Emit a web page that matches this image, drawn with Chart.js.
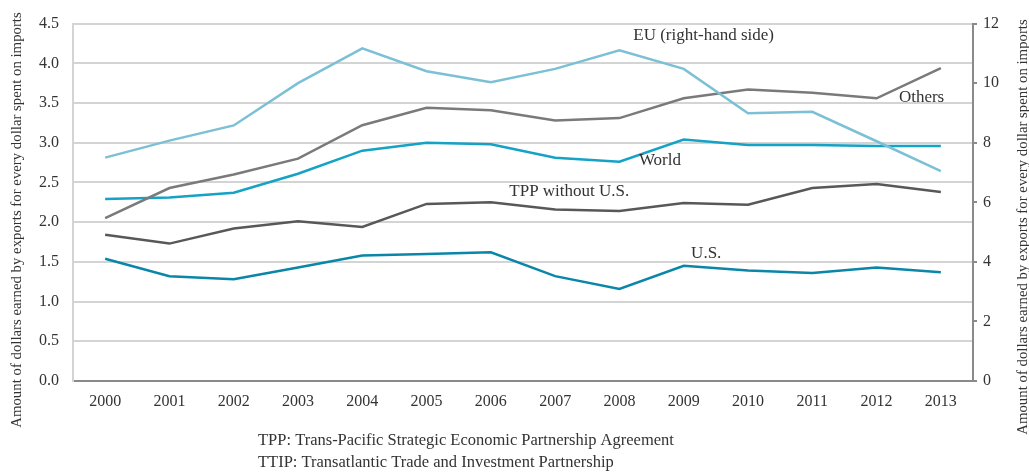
<!DOCTYPE html>
<html>
<head>
<meta charset="utf-8">
<script src="https://cdn.jsdelivr.net/npm/chart.js@4.4.1/dist/chart.umd.min.js"></script>
<style>
    html, body { margin: 0; padding: 0; background: #fff; }
    #wrap { width: 1029px; height: 473px; }
</style>
</head>
<body>
<div id="wrap"><canvas id="chart" width="1029" height="473"></canvas></div>
<script>
const years = ['2000', '2001', '2002', '2003', '2004', '2005', '2006', '2007', '2008', '2009', '2010', '2011', '2012', '2013'];

// EU is on the right-hand axis, everything else on the left
const euRight = [7.50, 8.07, 8.58, 10.0, 11.17, 10.4, 10.03, 10.48, 11.1, 10.48, 8.99, 9.04, 8.05, 7.05];
const others = [2.05, 2.43, 2.60, 2.80, 3.22, 3.44, 3.41, 3.28, 3.31, 3.56, 3.67, 3.63, 3.56, 3.94];
const world = [2.29, 2.31, 2.37, 2.61, 2.90, 3.00, 2.98, 2.81, 2.76, 3.04, 2.97, 2.97, 2.96, 2.96];
const tppNoUs = [1.84, 1.73, 1.92, 2.01, 1.94, 2.23, 2.25, 2.16, 2.14, 2.24, 2.22, 2.43, 2.48, 2.38];
const us = [1.54, 1.32, 1.28, 1.43, 1.58, 1.60, 1.62, 1.32, 1.16, 1.45, 1.39, 1.36, 1.43, 1.37];

const leftTicks = { min: 0, max: 4.5, step: 0.5 };
const rightTicks = { min: 0, max: 12, step: 2 };

// series names placed inside the plot: [text, category index, left-axis value]
const seriesLabels = [
    ['EU (right-hand side)', 9.31, 4.35],
    ['Others', 12.7, 3.57],
    ['World', 8.63, 2.77],
    ['TPP without U.S.', 7.22, 2.38],
    ['U.S.', 9.35, 1.60]
];

const axisTitle = 'Amount of dollars earned by exports for every dollar spent on imports';
const footnotes = [
    'TPP: Trans-Pacific Strategic Economic Partnership Agreement',
    'TTIP: Transatlantic Trade and Investment Partnership'
];

const serif = '"Liberation Serif", "DejaVu Serif", serif';
const textColor = '#333333';

const labelPlugin = {
    id: 'labelPlugin',
    afterDraw(chart) {
        const ctx = chart.ctx;
        const xs = chart.scales.x;
        const ys = chart.scales.y;
        ctx.save();
        ctx.fillStyle = textColor;

        // in-plot series names
        ctx.font = '17px ' + serif;
        ctx.textAlign = 'center';
        ctx.textBaseline = 'middle';
        seriesLabels.forEach(([text, idx, val]) => {
            ctx.fillText(text, xs.getPixelForValue(idx), ys.getPixelForValue(val));
        });

        // axis titles, both reading bottom to top
        ctx.font = '14.8px ' + serif;
        [[17, 220], [1023, 227]].forEach(([x, y]) => {
            ctx.save();
            ctx.translate(x, y);
            ctx.rotate(-Math.PI / 2);
            ctx.fillText(axisTitle, 0, 0);
            ctx.restore();
        });

        // footnotes under the chart
        ctx.font = '16.5px ' + serif;
        ctx.textAlign = 'left';
        footnotes.forEach((line, i) => {
            ctx.fillText(line, 258, 441 + i * 22);
        });
        ctx.restore();
    }
};

const lineStyle = {
    borderWidth: 2.5,
    pointRadius: 0,
    tension: 0,
    fill: false
};

new Chart(document.getElementById('chart'), {
    type: 'line',
    data: {
        labels: years,
        datasets: [
            { ...lineStyle, label: 'EU (right-hand side)', data: euRight, borderColor: '#7cc0d5', yAxisID: 'y1' },
            { ...lineStyle, label: 'Others', data: others, borderColor: '#7a7a7c', yAxisID: 'y' },
            { ...lineStyle, label: 'World', data: world, borderColor: '#14a2c5', yAxisID: 'y' },
            { ...lineStyle, label: 'TPP without U.S.', data: tppNoUs, borderColor: '#58585a', yAxisID: 'y' },
            { ...lineStyle, label: 'U.S.', data: us, borderColor: '#0a86a8', yAxisID: 'y' }
        ]
    },
    options: {
        responsive: false,
        animation: false,
        layout: { padding: { top: 23, left: 0, right: 0, bottom: 0 } },
        plugins: {
            legend: { display: false },
            tooltip: { enabled: false }
        },
        scales: {
            x: {
                offset: true,
                grid: { display: false },
                border: { display: true, color: '#8a8a8a', width: 2 },
                ticks: {
                    color: textColor,
                    font: { family: serif, size: 16 },
                    padding: 3,
                    maxRotation: 0
                },
                afterFit: (scale) => { scale.height = 92; }
            },
            y: {
                position: 'left',
                min: leftTicks.min,
                max: leftTicks.max,
                grid: { color: '#d4d4d4', lineWidth: 2, drawTicks: false },
                border: { display: true, color: '#d4d4d4', width: 2 },
                ticks: {
                    stepSize: leftTicks.step,
                    color: textColor,
                    font: { family: serif, size: 16 },
                    padding: 14,
                    callback: (v) => v.toFixed(1)
                },
                afterFit: (scale) => { scale.width = 73; }
            },
            y1: {
                position: 'right',
                min: rightTicks.min,
                max: rightTicks.max,
                grid: { drawOnChartArea: false, drawTicks: true, tickLength: 4, color: '#8a8a8a', lineWidth: 2 },
                border: { display: true, color: '#8a8a8a', width: 2 },
                ticks: {
                    stepSize: rightTicks.step,
                    color: textColor,
                    font: { family: serif, size: 16 },
                    padding: 6
                },
                afterFit: (scale) => { scale.width = 56; }
            }
        }
    },
    plugins: [labelPlugin]
});
</script>
</body>
</html>
